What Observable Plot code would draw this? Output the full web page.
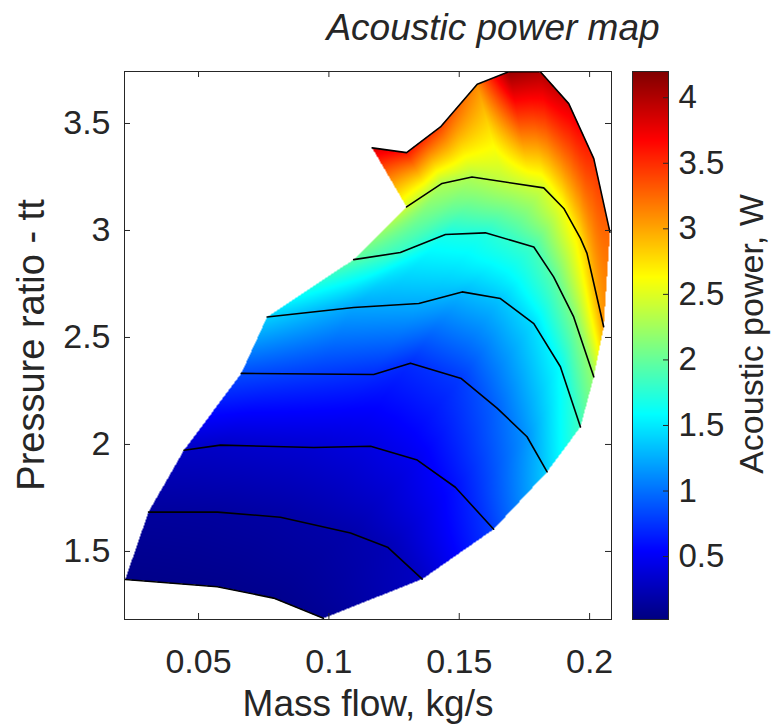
<!DOCTYPE html>
<html>
<head>
<meta charset="utf-8">
<script src="https://cdn.jsdelivr.net/npm/d3@7"></script>
<script src="https://cdn.jsdelivr.net/npm/@observablehq/plot@0.6"></script>
<style>
  body { margin: 0; background: #fff; }
  #wrap { position: relative; width: 771px; height: 726px; overflow: hidden;
          font-family: "Liberation Sans", Arial, sans-serif; color: #262626; }
  #wrap svg { position: absolute; left: 0; top: 0; }
  .lbl { position: absolute; white-space: nowrap; line-height: 1; }
</style>
</head>
<body>
<div id="wrap"></div>
<script>
// ---------------- data ----------------
// one sub-array per speed line, from the lowest to the highest
const massFlow = [
  [0.0219, 0.0572, 0.0788, 0.0979],
  [0.0308, 0.0573, 0.0814, 0.1083, 0.1225, 0.1358],
  [0.0444, 0.0584, 0.0942, 0.1160, 0.1339, 0.1485, 0.1632],
  [0.0664, 0.1172, 0.1313, 0.1508, 0.1645, 0.1760, 0.1837],
  [0.0763, 0.1095, 0.1345, 0.1511, 0.1658, 0.1786, 0.1888, 0.1965],
  [0.1095, 0.1274, 0.1447, 0.1600, 0.1786, 0.1862, 0.1939, 0.2016],
  [0.1298, 0.1434, 0.1549, 0.1824, 0.1901, 0.1965, 0.1990, 0.2054],
  [0.1166, 0.1298, 0.1428, 0.1569, 0.1690, 0.1811, 0.1920, 0.2016, 0.2078]
];
const pressureRatio = [
  [1.369, 1.335, 1.282, 1.188],
  [1.684, 1.684, 1.660, 1.586, 1.520, 1.371],
  [1.973, 1.997, 1.986, 1.992, 1.927, 1.800, 1.604],
  [2.332, 2.327, 2.380, 2.308, 2.170, 2.036, 1.872],
  [2.596, 2.640, 2.659, 2.713, 2.682, 2.565, 2.363, 2.082],
  [2.864, 2.897, 2.981, 2.989, 2.923, 2.783, 2.596, 2.316],
  [3.110, 3.220, 3.250, 3.199, 3.103, 2.963, 2.893, 2.550],
  [3.386, 3.364, 3.484, 3.683, 3.742, 3.742, 3.593, 3.336, 2.992]
];
const acousticPower = [
  [0.06, 0.07, 0.08, 0.10],
  [0.14, 0.15, 0.17, 0.20, 0.24, 0.30],
  [0.30, 0.32, 0.36, 0.42, 0.48, 0.60, 0.80],
  [0.85, 0.72, 0.72, 0.78, 0.95, 1.15, 1.40],
  [1.40, 1.22, 1.25, 1.30, 1.35, 1.45, 1.60, 1.85],
  [1.95, 1.80, 1.68, 1.72, 1.85, 1.95, 2.10, 2.20],
  [2.45, 2.30, 2.30, 2.45, 2.60, 2.75, 2.85, 3.05],
  [3.85, 3.60, 3.40, 3.10, 4.10, 4.00, 3.80, 3.50, 3.25]
];
const xDomain = [0.0216, 0.2084];
const yDomain = [1.182, 3.743];
const powerDomain = [0.02, 4.2];
const xTicks = [0.05, 0.1, 0.15, 0.2];
const yTicks = [1.5, 2, 2.5, 3, 3.5];
const powerTicks = [0.5, 1, 1.5, 2, 2.5, 3, 3.5, 4];
const titleText = "Acoustic power map";
const xLabel = "Mass flow, kg/s";
const yLabel = "Pressure ratio - tt";
const powerLabel = "Acoustic power, W";

// ---------------- layout ----------------
const W = 771, H = 726;
const margin = {left: 124, right: 160, top: 71, bottom: 107};
const fw = W - margin.left - margin.right;
const fh = H - margin.top - margin.bottom;
const FONT = "'Liberation Sans', Arial, sans-serif";
const INK = "#262626";

// MATLAB "jet" colormap
function jet(t) {
  const c = v => Math.max(0, Math.min(1, v));
  const r = c(Math.min(4 * t - 1.5, -4 * t + 4.5));
  const g = c(Math.min(4 * t - 0.5, -4 * t + 3.5));
  const b = c(Math.min(4 * t + 0.5, -4 * t + 2.5));
  return `rgb(${Math.round(r * 255)},${Math.round(g * 255)},${Math.round(b * 255)})`;
}
const colorScale = {type: "linear", domain: powerDomain, interpolate: jet, clamp: true};

// ---------------- interpolated surface between speed lines ----------------
const kx = fw / (xDomain[1] - xDomain[0]);
const ky = fh / (yDomain[1] - yDomain[0]);
const toX = x => (x - xDomain[0]) * kx;
const toY = y => (y - yDomain[0]) * ky;

function resample(i, n) {
  const xs = massFlow[i].map(toX), ys = pressureRatio[i].map(toY), ps = acousticPower[i];
  const L = [0];
  for (let j = 1; j < xs.length; j++) L.push(L[j - 1] + Math.hypot(xs[j] - xs[j - 1], ys[j] - ys[j - 1]));
  const total = L[L.length - 1];
  const out = [];
  let j = 0;
  for (let k = 0; k < n; k++) {
    const t = total * k / (n - 1);
    while (j < xs.length - 2 && L[j + 1] < t) j++;
    const f = Math.max(0, Math.min(1, (t - L[j]) / ((L[j + 1] - L[j]) || 1)));
    out.push([xs[j] + f * (xs[j + 1] - xs[j]), ys[j] + f * (ys[j + 1] - ys[j]), ps[j] + f * (ps[j + 1] - ps[j])]);
  }
  return out;
}
const N = 120;
const rows = massFlow.map((_, i) => resample(i, N));
const CS = 8, GX = Math.ceil(fw / CS) + 1, GY = Math.ceil(fh / CS) + 1;
const grid = Array.from({length: GX * GY}, () => []);
function addTri(a, b, c) {
  const det = (b[1] - c[1]) * (a[0] - c[0]) + (c[0] - b[0]) * (a[1] - c[1]);
  if (Math.abs(det) < 1e-9) return;
  const t = {a, b, c, det};
  const gx0 = Math.max(0, Math.floor(Math.min(a[0], b[0], c[0]) / CS));
  const gx1 = Math.min(GX - 1, Math.floor(Math.max(a[0], b[0], c[0]) / CS));
  const gy0 = Math.max(0, Math.floor(Math.min(a[1], b[1], c[1]) / CS));
  const gy1 = Math.min(GY - 1, Math.floor(Math.max(a[1], b[1], c[1]) / CS));
  for (let gy = gy0; gy <= gy1; gy++) for (let gx = gx0; gx <= gx1; gx++) grid[gy * GX + gx].push(t);
}
for (let s = 0; s < rows.length - 1; s++) {
  const A = rows[s], B = rows[s + 1];
  for (let i = 0; i < N - 1; i++) {
    addTri(A[i], A[i + 1], B[i + 1]);
    addTri(A[i], B[i + 1], B[i]);
  }
}
function powerAt(x, y) {
  const X = toX(x), Y = toY(y);
  const gx = Math.floor(X / CS), gy = Math.floor(Y / CS);
  if (gx < 0 || gy < 0 || gx >= GX || gy >= GY) return NaN;
  for (const {a, b, c, det} of grid[gy * GX + gx]) {
    const l1 = ((b[1] - c[1]) * (X - c[0]) + (c[0] - b[0]) * (Y - c[1])) / det;
    const l2 = ((c[1] - a[1]) * (X - c[0]) + (a[0] - c[0]) * (Y - c[1])) / det;
    const l3 = 1 - l1 - l2;
    if (l1 >= -1e-6 && l2 >= -1e-6 && l3 >= -1e-6) return l1 * a[2] + l2 * b[2] + l3 * c[2];
  }
  return NaN;
}

const lineRows = massFlow.flatMap((xs, i) => xs.map((x, j) => ({line: i, x, y: pressureRatio[i][j]})));

// ---------------- main map ----------------
const main = Plot.plot({
  width: W, height: H,
  marginLeft: margin.left, marginRight: margin.right, marginTop: margin.top, marginBottom: margin.bottom,
  style: {fontFamily: FONT, color: INK, background: "none"},
  x: {domain: xDomain, label: null},
  y: {domain: yDomain, label: null},
  color: colorScale,
  marks: [
    Plot.raster({fill: powerAt, x1: xDomain[0], x2: xDomain[1], y1: yDomain[0], y2: yDomain[1], pixelSize: 1}),
    Plot.line(lineRows, {x: "x", y: "y", z: "line", stroke: "#000", strokeWidth: 1.6}),
    Plot.frame({stroke: INK, strokeWidth: 1}),
    Plot.tickX(xTicks, {x: d => d, insetTop: fh - 6, stroke: INK}),
    Plot.tickX(xTicks, {x: d => d, insetBottom: fh - 6, stroke: INK}),
    Plot.tickY(yTicks, {y: d => d, insetRight: fw - 6, stroke: INK}),
    Plot.tickY(yTicks, {y: d => d, insetLeft: fw - 6, stroke: INK}),
    Plot.axisX(xTicks, {tickSize: 0, tickPadding: 29, tickFormat: d => String(d), fontSize: 34, fill: INK, label: null}),
    Plot.axisY(yTicks, {tickSize: 0, tickPadding: 14, tickFormat: d => String(d), fontSize: 34, fill: INK, label: null})
  ]
});

// ---------------- colorbar ----------------
const cbLeft = 632, cbRight = 668;
const bar = Plot.plot({
  width: W, height: H,
  marginLeft: cbLeft, marginRight: W - cbRight, marginTop: margin.top, marginBottom: margin.bottom,
  style: {fontFamily: FONT, color: INK, background: "none"},
  x: {domain: [0, 1], axis: null},
  y: {domain: powerDomain, label: null},
  color: colorScale,
  marks: [
    Plot.raster({fill: (x, y) => y, x1: 0, x2: 1, y1: powerDomain[0], y2: powerDomain[1], pixelSize: 1}),
    Plot.frame({stroke: INK, strokeWidth: 1}),
    Plot.tickY(powerTicks, {y: d => d, insetLeft: cbRight - cbLeft - 5, stroke: INK}),
    Plot.axisY(powerTicks, {anchor: "right", tickSize: 0, tickPadding: 10, tickFormat: d => String(d), fontSize: 33, fill: INK, label: null})
  ]
});

const wrap = document.getElementById("wrap");
wrap.append(main, bar);

function addLabel(text, {x, y, size, italic = false, rotate = false}) {
  const d = document.createElement("div");
  d.className = "lbl";
  d.textContent = text;
  d.style.fontSize = size + "px";
  if (italic) d.style.fontStyle = "italic";
  d.style.left = x + "px";
  d.style.top = y + "px";
  d.style.transform = rotate ? "translate(-50%,-50%) rotate(-90deg)" : "translate(-50%,-50%)";
  wrap.append(d);
}
// centers of the text boxes (line-height 1)
addLabel(titleText, {x: 493, y: 40 - 0.3465 * 37, size: 37, italic: true});
addLabel(xLabel, {x: 368, y: 716 - 0.3465 * 37, size: 37});
addLabel(yLabel, {x: 31, y: 345, size: 38, rotate: true});
addLabel(powerLabel, {x: 751, y: 334, size: 34, rotate: true});
</script>
</body>
</html>
